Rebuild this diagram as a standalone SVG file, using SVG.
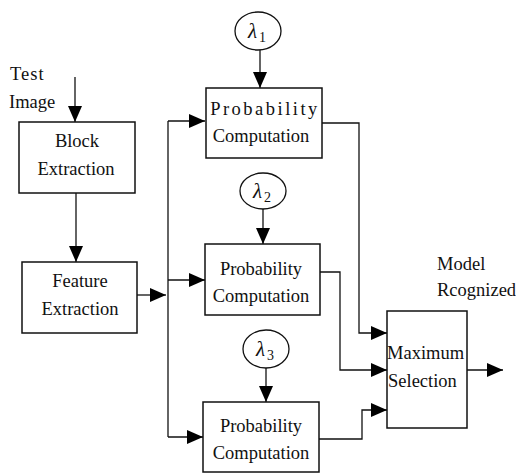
<svg xmlns="http://www.w3.org/2000/svg" width="516" height="475" viewBox="0 0 516 475">
<defs>
<marker id="ah" markerWidth="16" markerHeight="14" refX="16" refY="7" orient="auto" markerUnits="userSpaceOnUse">
<path d="M0,0 L16,7 L0,14 Z" fill="#000"/>
</marker>
<style>
.box{fill:#fff;stroke:#111;stroke-width:1.5}
.circ{fill:#fff;stroke:#111;stroke-width:1.3}
.t{font-size:18.5px;fill:#111}
.c{text-anchor:middle}
.lam{font-style:italic;font-size:21px;fill:#111}
.sub{font-size:14px;fill:#111}
.ln{fill:none;stroke:#111;stroke-width:1.3}
.arr{fill:none;stroke:#111;stroke-width:1.3;marker-end:url(#ah)}
</style>
</defs>
<rect width="516" height="475" fill="#fff"/>
<g font-family="Liberation Serif, DejaVu Serif, serif">
<g id="labels">
<text class="t" x="10" y="80" letter-spacing="1">Test</text>
<text class="t" x="9" y="108">Image</text>
<text class="t" x="437" y="270">Model</text>
<text class="t" x="437" y="296">Rcognized</text>
</g>
<g id="connectors">
<path class="arr" d="M75,77 V122"/>
<path class="arr" d="M76,193 V262"/>
<path class="arr" d="M137,295 H166"/>
<path class="ln" d="M168,121 V437"/>
<path class="arr" d="M168,121 H205"/>
<path class="arr" d="M168,280 H205"/>
<path class="arr" d="M168,437 H203"/>
<path class="arr" d="M260,50 V88"/>
<path class="arr" d="M263,209 V244"/>
<path class="arr" d="M266,368 V402"/>
<path class="arr" d="M322,123 H359 V333 H387"/>
<path class="arr" d="M320,272 H340 V370 H387"/>
<path class="arr" d="M319,439 H362 V410 H387"/>
<path class="arr" d="M467,370 H503"/>
</g>
<g id="block">
<rect class="box" x="19" y="122" width="116" height="71"/>
<text class="t c" x="77" y="147">Block</text>
<text class="t c" x="76" y="175">Extraction</text>
</g>
<g id="feature">
<rect class="box" x="22" y="262" width="115" height="71"/>
<text class="t c" x="80" y="287">Feature</text>
<text class="t c" x="80" y="315">Extraction</text>
</g>
<g id="lambda1">
<ellipse class="circ" cx="258" cy="31" rx="23" ry="19"/>
<text class="lam" x="248" y="38">λ</text><text class="sub" x="259" y="42">1</text>
</g>
<g id="lambda2">
<ellipse class="circ" cx="263" cy="191" rx="23" ry="18"/>
<text class="lam" x="253" y="198">λ</text><text class="sub" x="264" y="202">2</text>
</g>
<g id="lambda3">
<ellipse class="circ" cx="266" cy="349" rx="23" ry="19"/>
<text class="lam" x="256" y="356">λ</text><text class="sub" x="267" y="360">3</text>
</g>
<g id="prob1">
<rect class="box" x="206" y="88" width="116" height="70"/>
<text class="t c" x="265" y="115" letter-spacing="2.5">Probability</text>
<text class="t c" x="261" y="142">Computation</text>
</g>
<g id="prob2">
<rect class="box" x="205" y="244" width="115" height="71"/>
<text class="t c" x="261" y="275">Probability</text>
<text class="t c" x="261" y="302">Computation</text>
</g>
<g id="prob3">
<rect class="box" x="203" y="402" width="116" height="70"/>
<text class="t c" x="261" y="432">Probability</text>
<text class="t c" x="261" y="459">Computation</text>
</g>
<g id="maxsel">
<rect class="box" x="387" y="311" width="80" height="117"/>
<text class="t" x="387" y="359">Maximum</text>
<text class="t" x="388" y="387">Selection</text>
</g>
</g>
</svg>
